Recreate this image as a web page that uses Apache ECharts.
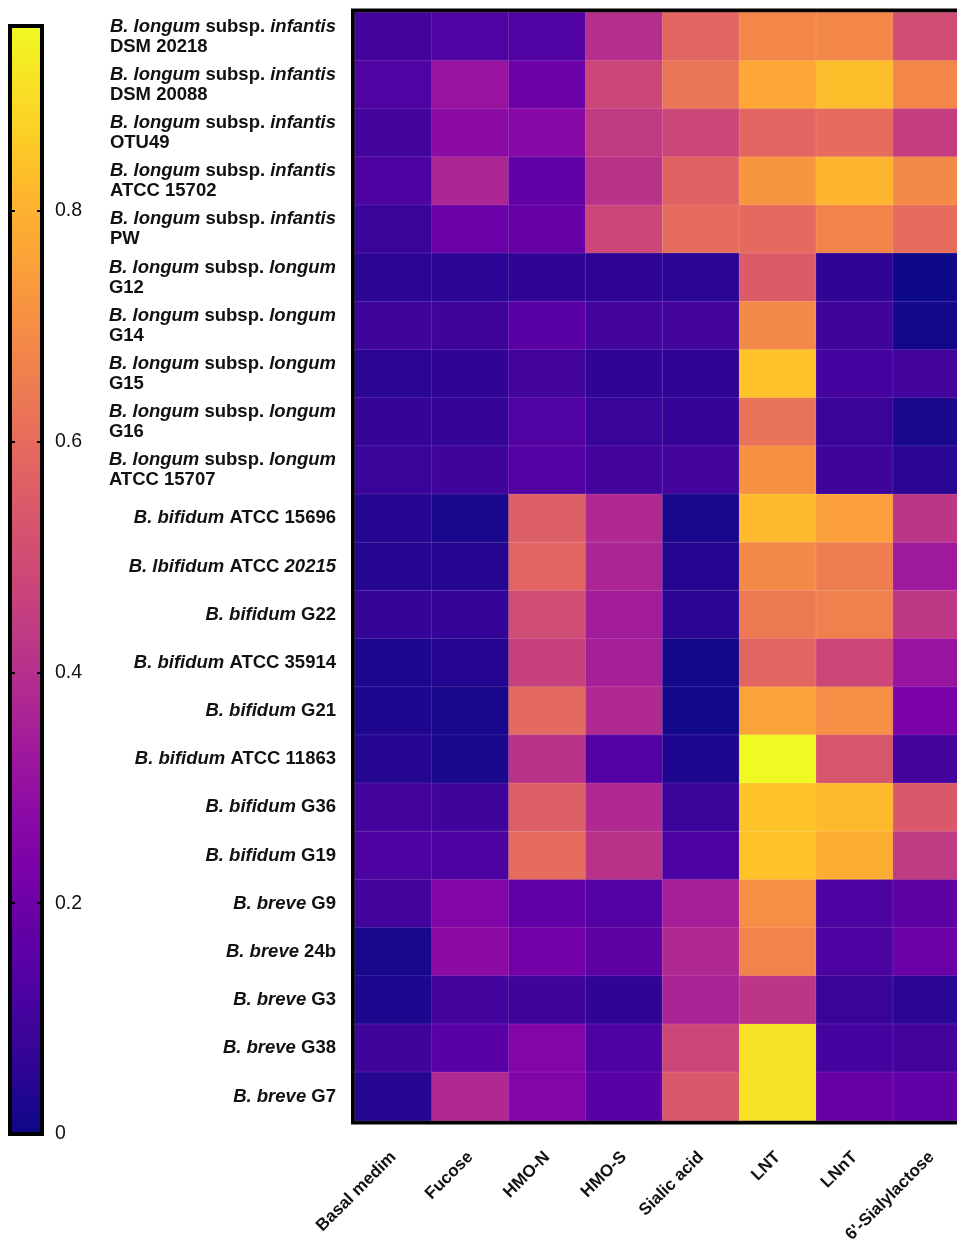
<!DOCTYPE html>
<html>
<head>
<meta charset="utf-8">
<script src="https://cdn.jsdelivr.net/npm/echarts@6/dist/echarts.min.js"></script>
<style>
  html, body { margin: 0; padding: 0; background: #fff; }
  #chart { width: 957px; height: 1240px; }
</style>
</head>
<body>
<div id="chart"></div>
<script>
// strains, top to bottom
const strains = [
    'B. longum subsp. infantis DSM 20218',
    'B. longum subsp. infantis DSM 20088',
    'B. longum subsp. infantis OTU49',
    'B. longum subsp. infantis ATCC 15702',
    'B. longum subsp. infantis PW',
    'B. longum subsp. longum G12',
    'B. longum subsp. longum G14',
    'B. longum subsp. longum G15',
    'B. longum subsp. longum G16',
    'B. longum subsp. longum ATCC 15707',
    'B. bifidum ATCC 15696',
    'B. lbifidum ATCC 20215',
    'B. bifidum G22',
    'B. bifidum ATCC 35914',
    'B. bifidum G21',
    'B. bifidum ATCC 11863',
    'B. bifidum G36',
    'B. bifidum G19',
    'B. breve G9',
    'B. breve 24b',
    'B. breve G3',
    'B. breve G38',
    'B. breve G7'
];

const substrates = ['Basal medim', 'Fucose', 'HMO-N', 'HMO-S', 'Sialic acid', 'LNT', 'LNnT', "6'-Sialylactose"];

// one array per substrate, values in strain order
const basal  = [0.10, 0.13, 0.10, 0.12, 0.08, 0.05, 0.09, 0.05, 0.07, 0.08, 0.04, 0.04, 0.07, 0.03, 0.03, 0.04, 0.10, 0.12, 0.10, 0.02, 0.03, 0.09, 0.04];
const fucose = [0.13, 0.31, 0.28, 0.37, 0.19, 0.05, 0.09, 0.06, 0.07, 0.09, 0.02, 0.04, 0.07, 0.04, 0.02, 0.02, 0.09, 0.12, 0.25, 0.28, 0.10, 0.15, 0.38];
const hmoN   = [0.13, 0.20, 0.27, 0.17, 0.18, 0.06, 0.15, 0.10, 0.13, 0.14, 0.56, 0.58, 0.50, 0.46, 0.59, 0.41, 0.56, 0.60, 0.17, 0.21, 0.09, 0.25, 0.25];
const hmoS   = [0.40, 0.48, 0.44, 0.41, 0.48, 0.06, 0.10, 0.06, 0.08, 0.10, 0.38, 0.37, 0.34, 0.35, 0.38, 0.14, 0.38, 0.41, 0.14, 0.16, 0.06, 0.12, 0.15];
const sialic = [0.58, 0.63, 0.48, 0.57, 0.60, 0.05, 0.10, 0.06, 0.07, 0.10, 0.02, 0.04, 0.05, 0.01, 0.01, 0.03, 0.08, 0.12, 0.35, 0.38, 0.36, 0.48, 0.54];
const lnt    = [0.68, 0.77, 0.58, 0.72, 0.59, 0.55, 0.69, 0.84, 0.62, 0.71, 0.82, 0.69, 0.64, 0.58, 0.76, 0.96, 0.84, 0.84, 0.70, 0.67, 0.42, 0.91, 0.91];
const lnnt   = [0.68, 0.83, 0.60, 0.81, 0.67, 0.06, 0.09, 0.11, 0.08, 0.09, 0.75, 0.65, 0.66, 0.48, 0.70, 0.53, 0.82, 0.79, 0.12, 0.12, 0.08, 0.11, 0.18];
const sl6    = [0.50, 0.68, 0.45, 0.69, 0.60, 0.00, 0.01, 0.10, 0.02, 0.05, 0.42, 0.33, 0.43, 0.31, 0.23, 0.10, 0.54, 0.44, 0.16, 0.19, 0.05, 0.10, 0.17];

const columns = [basal, fucose, hmoN, hmoS, sialic, lnt, lnnt, sl6];

// colour scale
const scaleMin = 0;
const scaleMax = 0.96;
const scaleTicks = [0, 0.2, 0.4, 0.6, 0.8];

const plasma = ['#0d0887', '#2a0593', '#41049d', '#5601a4', '#6a00a8', '#7e03a8', '#8f0da4',
    '#a11b9b', '#b12a90', '#bf3984', '#cc4778', '#d6556d', '#e16462', '#ea7457', '#f2844b',
    '#f89540', '#fca636', '#feb72d', '#fcce25', '#f7e225', '#f0f921'];

const FONT = '"Liberation Sans", Arial, Helvetica, sans-serif';

let data = [];
columns.forEach((col, x) => {
    col.forEach((v, y) => data.push([x, y, v]));
});

function strainLabel(name) {
    let m = name.match(/^(B\. \w+) subsp\. (\w+) (.+)$/);
    if (m) {
        return '{il|' + m[1] + ' }{bl|subsp. }{il|' + m[2] + '}\n{bl|' + m[3] + '}';
    }
    if (name.indexOf('lbifidum') >= 0) {
        let p = name.split(' ');
        return '{i|' + p[0] + ' ' + p[1] + ' }{b|' + p[2] + ' }{i|' + p[3] + '}';
    }
    m = name.match(/^(B\. \w+) (.+)$/);
    return '{i|' + m[1] + ' }{b|' + m[2] + '}';
}

const labelText = { fontFamily: FONT, fontSize: 18.5, fontWeight: 'bold', color: '#111', lineHeight: 20 };

var myChart = echarts.init(document.getElementById('chart'));
myChart.setOption({
    animation: false,
    grid: [{
        left: 355,
        top: 12.5,
        width: 615,
        height: 1108,
        outerBoundsMode: 'none',
        containLabel: false,
        show: true,
        borderColor: '#000',
        borderWidth: 8,
        backgroundColor: 'transparent'
    }, {
        left: 10,
        top: 26,
        width: 32,
        height: 1108,
        outerBoundsMode: 'none',
        containLabel: false,
        show: true,
        z: 10,
        borderColor: '#000',
        borderWidth: 4,
        backgroundColor: 'transparent'
    }],
    xAxis: [{
        type: 'category',
        gridIndex: 0,
        data: substrates,
        axisLine: { show: false },
        axisTick: { show: false },
        splitLine: { show: false },
        axisLabel: {
            interval: 0,
            rotate: 45,
            margin: 34,
            fontFamily: FONT,
            fontSize: 17,
            fontWeight: 'bold',
            color: '#111'
        }
    }, {
        type: 'value',
        gridIndex: 1,
        show: false,
        min: 0,
        max: 1
    }],
    yAxis: [{
        type: 'category',
        gridIndex: 0,
        data: strains,
        inverse: true,
        axisLine: { show: false },
        axisTick: { show: false },
        splitLine: { show: false },
        axisLabel: {
            interval: 0,
            margin: 19,
            formatter: strainLabel,
            rich: {
                i: Object.assign({ fontStyle: 'italic' }, labelText),
                b: Object.assign({}, labelText),
                il: Object.assign({ fontStyle: 'italic', align: 'left' }, labelText),
                bl: Object.assign({ align: 'left' }, labelText)
            }
        }
    }, {
        type: 'value',
        gridIndex: 1,
        position: 'left',
        min: scaleMin,
        max: scaleMax,
        interval: 0.2,
        z: 10,
        axisLine: { show: false },
        splitLine: { show: false },
        axisTick: { show: true, inside: true, length: 5, lineStyle: { color: '#000', width: 2 } },
        axisLabel: { show: false }
    }, {
        type: 'value',
        gridIndex: 1,
        position: 'right',
        min: scaleMin,
        max: scaleMax,
        interval: 0.2,
        z: 10,
        axisLine: { show: false },
        splitLine: { show: false },
        axisTick: { show: true, inside: true, length: 5, lineStyle: { color: '#000', width: 2 } },
        axisLabel: {
            margin: 13,
            showMaxLabel: false,
            fontFamily: FONT,
            fontSize: 19.5,
            color: '#111',
            formatter: (v) => scaleTicks.indexOf(Math.round(v * 10) / 10) >= 0 ? String(Math.round(v * 10) / 10) : ''
        }
    }],
    visualMap: {
        type: 'continuous',
        seriesIndex: 0,
        min: scaleMin,
        max: scaleMax,
        left: 10,
        top: 26,
        padding: 0,
        itemWidth: 32,
        itemHeight: 1108,
        calculable: false,
        hoverLink: false,
        showLabel: false,
        text: null,
        inRange: { color: plasma }
    },
    series: [{
        type: 'heatmap',
        xAxisIndex: 0,
        yAxisIndex: 0,
        data: data,
        itemStyle: { borderColor: 'rgba(255,255,255,0.12)', borderWidth: 1 },
        emphasis: { disabled: true }
    }]
});
</script>
</body>
</html>
